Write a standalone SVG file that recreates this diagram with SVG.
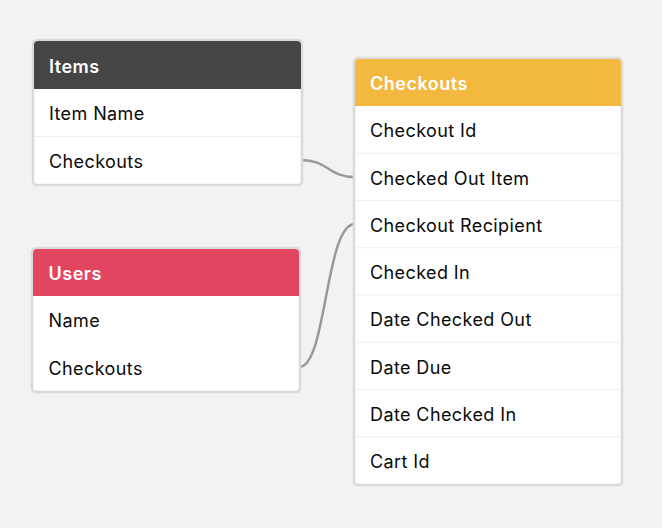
<svg xmlns="http://www.w3.org/2000/svg" width="662" height="528" viewBox="0 0 662 528">
<style>
.bg{fill:#f3f2f0}
.frame{fill:#ffffff;stroke:#dadada;stroke-width:2.5}
.hd{font-family:Inter,"Liberation Sans",sans-serif;font-size:18px;font-weight:600;fill:#ffffff;letter-spacing:0.5px}
.tx{font-family:Inter,"Liberation Sans",sans-serif;font-size:18px;fill:#0a0a0a;letter-spacing:0.4px}
.div{stroke:#efefef;stroke-width:1}
.conn{fill:none;stroke:#999999;stroke-width:2.5}
</style>
<rect class="bg" x="0" y="0" width="662" height="528"/>
<g id="connectors">
<path class="conn" d="M301,160 C328,160 328,177 355,177"/>
<path class="conn" d="M299,367 C327,367 325,224 355,224"/>
</g>
<g id="items">
<rect class="frame" x="33" y="40" width="269" height="145" rx="4"/>
<path d="M34,89 V45 Q34,41 38,41 H297 Q301,41 301,45 V89 Z" fill="#454545"/>
<line class="div" x1="34" y1="136.5" x2="301" y2="136.5"/>
<text class="hd" x="49" y="72.5">Items</text>
<text class="tx" x="49" y="120">Item Name</text>
<text class="tx" x="49" y="167.5">Checkouts</text>
</g>
<g id="users">
<rect class="frame" x="32" y="248" width="268" height="144" rx="4"/>
<path d="M33,296 V253 Q33,249 37,249 H295 Q299,249 299,253 V296 Z" fill="#e3445f"/>
<text class="hd" x="48.5" y="280">Users</text>
<text class="tx" x="48.5" y="327.3">Name</text>
<text class="tx" x="48.5" y="374.5">Checkouts</text>
</g>
<g id="checkouts">
<rect class="frame" x="354" y="58" width="268" height="427" rx="4"/>
<path d="M355,106 V63 Q355,59 359,59 H617 Q621,59 621,63 V106 Z" fill="#f2b840"/>
<line class="div" x1="355" y1="153.25" x2="621" y2="153.25"/>
<line class="div" x1="355" y1="200.5" x2="621" y2="200.5"/>
<line class="div" x1="355" y1="247.75" x2="621" y2="247.75"/>
<line class="div" x1="355" y1="295" x2="621" y2="295"/>
<line class="div" x1="355" y1="342.25" x2="621" y2="342.25"/>
<line class="div" x1="355" y1="389.5" x2="621" y2="389.5"/>
<line class="div" x1="355" y1="436.75" x2="621" y2="436.75"/>
<text class="hd" x="370" y="89.5">Checkouts</text>
<text class="tx" x="370" y="137.3">Checkout Id</text>
<text class="tx" x="370" y="184.5">Checked Out Item</text>
<text class="tx" x="370" y="231.8">Checkout Recipient</text>
<text class="tx" x="370" y="279">Checked In</text>
<text class="tx" x="370" y="326.3">Date Checked Out</text>
<text class="tx" x="370" y="373.5">Date Due</text>
<text class="tx" x="370" y="420.8">Date Checked In</text>
<text class="tx" x="370" y="468">Cart Id</text>
</g>
</svg>
